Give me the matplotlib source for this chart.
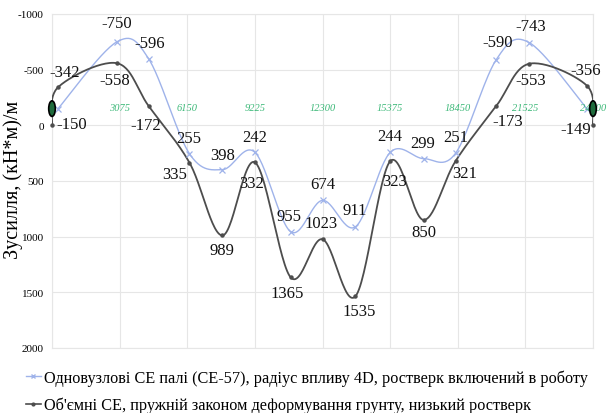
import numpy as np
import matplotlib
matplotlib.use("Agg")
import matplotlib.pyplot as plt
from matplotlib.patches import Ellipse

plt.rcParams['font.family'] = ['Liberation Serif', 'DejaVu Serif']

# Data (position along the section, mm; moment, kN*m/m)
x_pos = [0, 275, 2950, 4400, 6250, 7750, 9225, 10850, 12300,
         13800, 15375, 16900, 18350, 20200, 21700, 24325, 24600]
single_node = [-150, -750, -596, 255, 398, 242, 955, 674, 911,
               244, 299, 251, -590, -743, -149]           # x_pos[1:-1]
volume_fe = [0, -342, -558, -172, 335, 989, 332, 1365, 1023,
             1535, 323, 850, 321, -173, -553, -356, 0]
x_ticks = [3075, 6150, 9225, 12300, 15375, 18450, 21525, 24600]
y_ticks = [-1000, -500, 0, 500, 1000, 1500, 2000]
label_single = 'Одновузлові СЕ палі (СЕ-57), радіус впливу 4D, ростверк включений в роботу'
label_volume = "Об'ємні СЕ, пружній законом деформування грунту, низький ростверк"

# label offsets in pixels (dx, dy) from the point, screen y down
off_single = [(14, 15), (0, -19), (1, -16), (-1, -16), (0, -15), (0, -15), (-2, -16),
              (0, -16), (-1, -17), (0, -16), (-1, -16), (0, -16), (1, -18), (1, -17), (-11, 20)]
off_volume = [(0, 0), (7, -15), (-2, 17), (-3, 19), (-15, 11), (0, 15), (-3, 21), (-3, 16),
              (-1, -16), (4, 15), (4, 20), (0, 12), (9, 12), (11, 15), (1, 16), (-1, -16), (0, 0)]


def smooth(xs, ys, n=30):
    # Catmull-Rom curve through the points (like a smoothed line)
    p = np.column_stack([xs, ys]).astype(float)
    p = np.vstack([p[0], p, p[-1]])
    out = []
    t = np.linspace(0, 1, n)[:, None]
    for i in range(1, len(p) - 2):
        p0, p1, p2, p3 = p[i - 1], p[i], p[i + 1], p[i + 2]
        c = 0.5 * ((2 * p1) + (-p0 + p2) * t + (2 * p0 - 5 * p1 + 4 * p2 - p3) * t ** 2
                   + (-p0 + 3 * p1 - 3 * p2 + p3) * t ** 3)
        out.append(c)
    c = np.vstack(out)
    return c[:, 0], c[:, 1]


fig = plt.figure(figsize=(6.11, 4.14), dpi=100)
ax = fig.add_axes([52 / 611, 1 - 349 / 414, 541 / 611, 334 / 414])

blue = '#9fb3ea'
dark = '#4d4d4d'

xs_b = x_pos[1:-1]
sx, sy = smooth(xs_b, single_node)
ax.plot(sx, sy, color=blue, lw=1.0, zorder=3)
ax.plot(xs_b, single_node, ls='none', marker='x', ms=4.5, mew=0.9, color=blue, zorder=4)

sx, sy = smooth(x_pos, volume_fe)
ax.plot(sx, sy, color=dark, lw=1.3, zorder=3)
ax.plot(x_pos, volume_fe, ls='none', marker='o', ms=2.2, color=dark, zorder=4, clip_on=False)

for xv, yv, (dx, dy) in zip(xs_b, single_node, off_single):
    ax.annotate(str(yv), (xv, yv), xytext=(dx * 0.72, -dy * 0.72), textcoords='offset points',
                ha='center', va='center', fontsize=12, color='#111111', zorder=6)
for xv, yv, (dx, dy) in zip(x_pos, volume_fe, off_volume):
    if xv in (x_pos[0], x_pos[-1]):
        continue
    ax.annotate(str(yv), (xv, yv), xytext=(dx * 0.72, -dy * 0.72), textcoords='offset points',
                ha='center', va='center', fontsize=12, color='#111111', zorder=6)

# highlighted support points
for xe in (x_pos[0], x_pos[-1]):
    ax.add_patch(Ellipse((xe, -150), 300, 140, facecolor='#1e6b3c', edgecolor='black',
                         lw=1.2, zorder=7, clip_on=False))

for xt in x_ticks:
    ax.text(xt, -160, str(xt), color='#3cb878', fontsize=7.5, style='italic',
            ha='center', va='center', zorder=5)

ax.set_xlim(0, 24600)
ax.set_ylim(2000, -1000)
ax.set_xticks([0] + x_ticks)
ax.set_xticklabels([])
ax.tick_params(axis='x', length=0)
ax.set_yticks(y_ticks)
ax.set_yticklabels([str(v) for v in y_ticks], fontsize=8)
ax.tick_params(axis='y', length=0, pad=6)
ax.grid(True, color='#e6e6e6', lw=0.8)
ax.set_axisbelow(True)
for s in ax.spines.values():
    s.set_color('#e6e6e6')
    s.set_linewidth(0.8)

fig.text(13 / 611, 1 - 180 / 414, 'Зусилля, (кН*м)/м', rotation=90, fontsize=14.5,
         ha='center', va='center')

h1, = ax.plot([], [], color=blue, marker='x', ms=3.5, lw=1.0)
h2, = ax.plot([], [], color=dark, marker='o', ms=2, lw=1.2)
fig.legend([h1, h2], [label_single, label_volume], loc='upper left',
           bbox_to_anchor=(18 / 611, 1 - 362 / 414), frameon=False, fontsize=11.7,
           handlelength=0.9, handletextpad=0.2, labelspacing=0.7, borderpad=0)

fig.savefig('out.png', dpi=100)
